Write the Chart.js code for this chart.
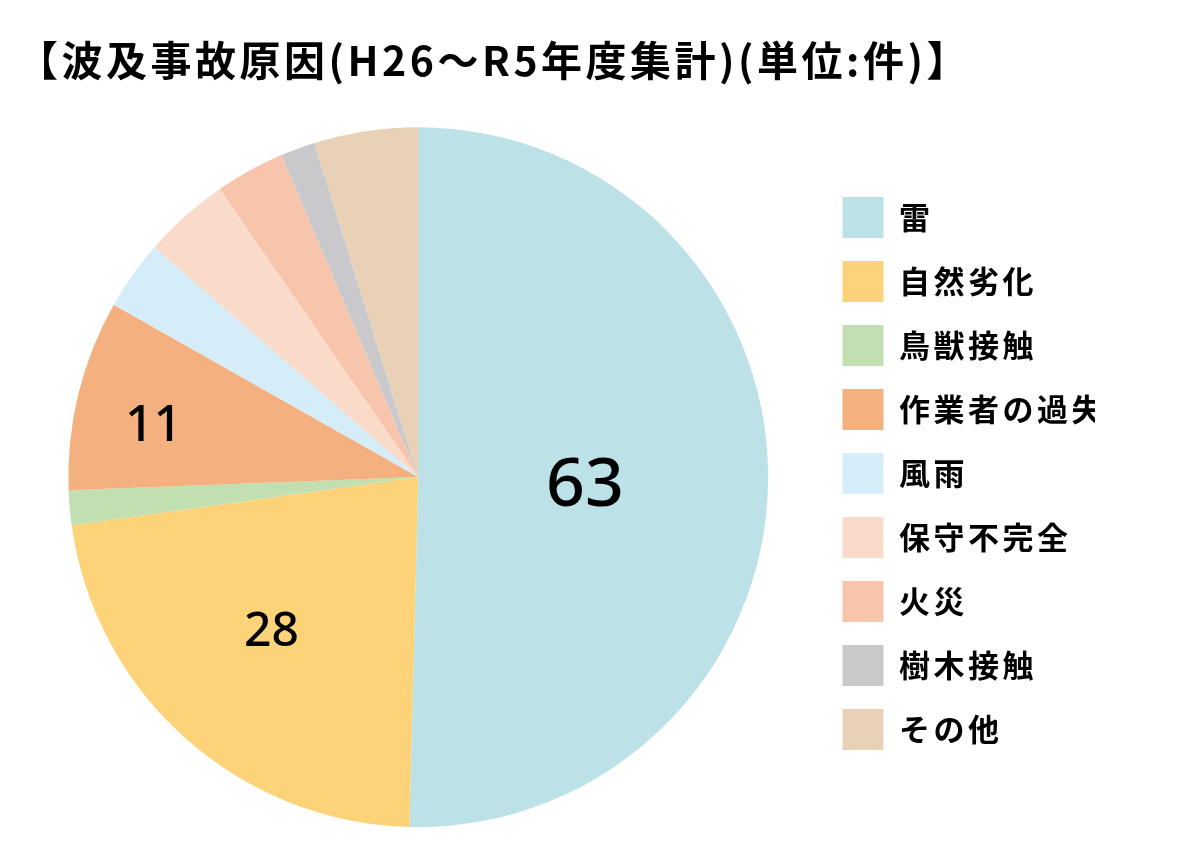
<!DOCTYPE html>
<html lang="ja">
<head>
<meta charset="utf-8">
<title>波及事故原因</title>
<script src="https://cdn.jsdelivr.net/npm/chart.js@4.4.1/dist/chart.umd.min.js"></script>
<style>
  html, body { margin: 0; padding: 0; background: #fff; }
  #wrap { position: relative; width: 1180px; height: 861px; }
</style>
</head>
<body>
<div id="wrap"><canvas id="causeChart"></canvas></div>
<script>
// 波及事故原因 (H26〜R5年度集計) 単位:件
const causeLabels = ['雷', '自然劣化', '鳥獣接触', '作業者の過失', '風雨', '保守不完全', '火災', '樹木接触', 'その他'];
const causeCounts = [63, 28, 2, 11, 4, 5, 4, 2, 6];
const causeColors = ['#bce2e8', '#fcd378', '#c1dfb0', '#f4b07f', '#d5ecf9', '#fadbca', '#f7c5ab', '#c9c9cb', '#e8d1b6'];
// only these slices carry a number on the chart
const shownValues = ['雷', '自然劣化', '作業者の過失'];

// title and legend text in the original is slightly tracked out
const tracking = {
    id: 'tracking',
    beforeDraw(chart, args, opts) {
        chart.ctx.letterSpacing = opts.spacing;
    },
    afterDraw(chart) {
        chart.ctx.letterSpacing = '0px';
    }
};

// draws the counts inside the larger slices
const sliceLabels = {
    id: 'sliceLabels',
    afterDatasetsDraw(chart, args, opts) {
        const ctx = chart.ctx;
        const meta = chart.getDatasetMeta(0);
        ctx.save();
        ctx.letterSpacing = '0px';
        ctx.fillStyle = '#000';
        ctx.textAlign = 'center';
        ctx.textBaseline = 'middle';
        meta.data.forEach((arc, i) => {
            const place = opts.place[causeLabels[i]];
            if (!place || !shownValues.includes(causeLabels[i])) return;
            const mid = (arc.startAngle + arc.endAngle) / 2 + place.da * Math.PI / 180;
            const r = arc.outerRadius * place.r;
            ctx.font = '500 ' + place.size + 'px "Noto Sans", sans-serif';
            ctx.fillText(String(causeCounts[i]), arc.x + r * Math.cos(mid), arc.y + r * Math.sin(mid));
        });
        ctx.restore();
    }
};

new Chart(document.getElementById('causeChart'), {
    type: 'pie',
    data: {
        labels: causeLabels,
        datasets: [{
            data: causeCounts,
            backgroundColor: causeColors,
            borderWidth: 0
        }]
    },
    options: {
        responsive: true,
        maintainAspectRatio: false,
        animation: false,
        events: [],
        layout: {
            padding: { left: 17, right: 85, top: 0, bottom: 34 }
        },
        plugins: {
            title: {
                display: true,
                text: '【波及事故原因(H26〜R5年度集計)(単位:件)】',
                align: 'start',
                color: '#000',
                font: { family: '"Noto Sans CJK JP", sans-serif', size: 41, weight: 'bold', lineHeight: 1.2 },
                padding: { top: 36, bottom: 42 }
            },
            legend: {
                position: 'right',
                align: 'start',
                title: {
                    display: true,
                    text: '',
                    font: { size: 10, lineHeight: 1 },
                    padding: { top: 164, bottom: 0 }
                },
                labels: {
                    boxWidth: 41,
                    boxHeight: 41,
                    padding: 23,
                    color: '#000',
                    font: { family: '"Noto Sans CJK JP", sans-serif', size: 31, weight: 'bold' }
                }
            },
            tooltip: { enabled: false },
            tracking: { spacing: '3.5px' },
            sliceLabels: {
                place: {
                    '雷': { r: 0.477, da: 2.4, size: 68 },
                    '自然劣化': { r: 0.61, da: 1.7, size: 48 },
                    '作業者の過失': { r: 0.77, da: -2.9, size: 50 }
                }
            }
        }
    },
    plugins: [tracking, sliceLabels]
});
</script>
</body>
</html>
